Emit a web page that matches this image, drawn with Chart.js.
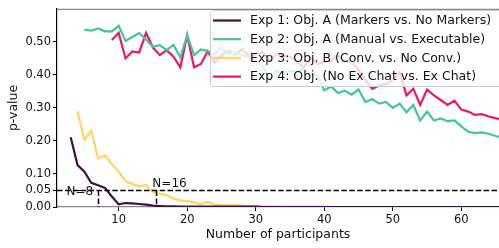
<!DOCTYPE html>
<html>
<head>
<meta charset="utf-8">
<script src="https://cdn.jsdelivr.net/npm/chart.js@4.4.1/dist/chart.umd.min.js"></script>
<style>
  html, body { margin: 0; padding: 0; background: #fff; }
  #wrap { width: 499px; height: 248px; }
</style>
</head>
<body>
<div id="wrap"><canvas id="pChart" width="499" height="248"></canvas></div>
<script>
// number of participants (x) and p-values for each experiment
const participants = [3,4,5,6,7,8,9,10,11,12,13,14,15,16,17,18,19,20,21,22,23,24,25,26,27,28,29,30,31,32,33,34,35,36,37,38,39,40,41,42,43,44,45,46,47,48,49,50,51,52,53,54,55,56,57,58,59,60,61,62,63,64,65,66];

const exp1 = [0.211,0.127,0.107,0.073,0.066,0.058,0.032,0.008,0.012,0.011,0.009,0.007,0.004,0.003,0.002,0.002,0.001,0.001,0.001,0.001,0.001,0.001,0.001,0.001,0.001,0.001,0.001,0.001,0,0,0,0,0,0,0,0,0,0,0,0,0,0,0,0,0,0,0,0,0,0,0,0,0,0,0,0,0,0,0,0,0,0,0,0];
const exp2 = [null,null,0.537,0.534,0.541,0.532,0.532,0.549,0.503,0.515,0.527,0.507,0.485,0.490,0.475,0.491,0.453,0.520,0.460,0.477,0.472,0.462,0.483,0.462,0.468,0.460,0.455,0.442,0.428,0.383,0.413,0.405,0.413,0.410,0.418,0.405,0.398,0.353,0.365,0.345,0.352,0.340,0.356,0.318,0.327,0.313,0.318,0.300,0.313,0.287,0.309,0.262,0.289,0.262,0.268,0.260,0.262,0.244,0.228,0.224,0.226,0.222,0.215,0.210];
const exp3 = [null,0.290,0.204,0.231,0.147,0.156,0.130,0.107,0.078,0.070,0.062,0.067,0.045,0.040,0.036,0.025,0.020,0.018,0.014,0.008,0.016,0.007,0.006,0.005,0.005,0.004,0.003,0.003,0.002,0.002,0.002,0.001,0.001,0.001,0.001,0.001,0.001,0.001,0,0,0,0,0,0,0,0,0,0,0,0,0,0,0,0,0,0,0,0,0,0,0,0,0,0];
const exp4 = [null,null,null,null,null,null,0.506,0.527,0.450,0.471,0.468,0.527,0.483,0.460,0.475,0.455,0.423,0.520,0.423,0.433,0.472,0.437,0.460,0.473,0.462,0.477,0.458,0.462,0.468,0.445,0.463,0.458,0.455,0.440,0.423,0.453,0.433,0.440,0.443,0.458,0.443,0.440,0.415,0.385,0.358,0.368,0.372,0.385,0.408,0.338,0.358,0.309,0.356,0.338,0.324,0.309,0.322,0.295,0.289,0.279,0.281,0.274,0.269,0.264];

const seriesNames = ['Exp 1: Obj. A (Markers vs. No Markers)', 'Exp 2: Obj. A (Manual vs. Executable)', 'Exp 3: Obj. B (Conv. vs. No Conv.)', 'Exp 4: Obj. (No Ex Chat vs. Ex Chat)'];
const seriesColors = ['#3f1142', '#45c49a', '#fdd562', '#e8196b'];

const xTicks = [10, 20, 30, 40, 50, 60];
const yTicks = [0, 0.05, 0.10, 0.20, 0.30, 0.40, 0.50];

// significance threshold and the N where each curve drops below it
const alphaLevel = 0.05;
const markerN = [7, 15.5];
const markerText = ['N=8', 'N=16'];

Chart.defaults.font.family = "'DejaVu Sans', sans-serif";
Chart.defaults.color = '#111';

const toPoints = arr => participants.map((n, i) => ({ x: n, y: arr[i] }));
const allSeries = [exp1, exp2, exp3, exp4];

// dashed threshold lines, N labels, top spine and the overlaid legend
const overlayPlugin = {
  id: 'overlay',
  afterDatasetsDraw(chart) {
    const { ctx, chartArea: a, scales: { x, y } } = chart;
    const yA = y.getPixelForValue(alphaLevel);
    const y0 = y.getPixelForValue(0);
    ctx.save();
    ctx.strokeStyle = '#000'; ctx.lineWidth = 1.5; ctx.setLineDash([5.5, 2.4]);
    ctx.beginPath(); ctx.moveTo(a.left, yA); ctx.lineTo(a.right, yA); ctx.stroke();
    markerN.forEach(n => {
      const px = Math.round(x.getPixelForValue(n)) + 0.5;
      ctx.beginPath(); ctx.moveTo(px, yA); ctx.lineTo(px, y0); ctx.stroke();
    });
    ctx.setLineDash([]);
    ctx.fillStyle = '#111'; ctx.font = "12px 'DejaVu Sans'";
    ctx.textAlign = 'right'; ctx.textBaseline = 'middle';
    ctx.fillText(markerText[0], x.getPixelForValue(markerN[0]) - 5, yA + 1);
    ctx.textAlign = 'left'; ctx.textBaseline = 'bottom';
    ctx.fillText(markerText[1], x.getPixelForValue(markerN[1]) - 4, yA - 1);

    // top spine
    ctx.strokeStyle = '#888'; ctx.lineWidth = 1.2;
    ctx.beginPath(); ctx.moveTo(a.left, a.top + 0.5); ctx.lineTo(a.right, a.top + 0.5); ctx.stroke();

    // legend box
    const bx = 210.5, by = 10.5, bw = 300, bh = 76;
    ctx.fillStyle = 'rgba(255,255,255,0.8)'; ctx.strokeStyle = '#cfcfcf'; ctx.lineWidth = 1;
    ctx.beginPath(); ctx.roundRect(bx, by, bw, bh, 3); ctx.fill(); ctx.stroke();
    ctx.font = "12.5px 'DejaVu Sans'"; ctx.textAlign = 'left'; ctx.textBaseline = 'middle';
    seriesNames.forEach((name, i) => {
      const ry = 20.5 + i * 18.7;
      ctx.strokeStyle = seriesColors[i]; ctx.lineWidth = 2.2;
      ctx.beginPath(); ctx.moveTo(213, ry); ctx.lineTo(241, ry); ctx.stroke();
      ctx.fillStyle = '#111';
      ctx.fillText(name, 250, ry + 0.5);
    });
    ctx.restore();
  }
};

new Chart(document.getElementById('pChart'), {
  type: 'line',
  data: {
    datasets: allSeries.map((arr, i) => ({
      label: seriesNames[i],
      data: toPoints(arr),
      borderColor: seriesColors[i],
      backgroundColor: seriesColors[i],
      borderWidth: 2.2,
      pointRadius: 0,
      tension: 0,
      fill: false
    }))
  },
  options: {
    responsive: false,
    animation: false,
    layout: { padding: { top: 4, right: 0, left: 0, bottom: 0 } },
    plugins: { legend: { display: false }, tooltip: { enabled: false } },
    scales: {
      x: {
        type: 'linear', min: 1, max: 65.5,
        afterBuildTicks: s => { s.ticks = xTicks.map(v => ({ value: v })); },
        afterFit: s => { s.height = 41; },
        grid: { drawOnChartArea: false, drawTicks: true, tickLength: 4, tickColor: '#000' },
        border: { color: '#888', width: 1.2 },
        ticks: { font: { size: 11.5 }, padding: 2, color: '#111', maxRotation: 0 },
        title: { display: true, text: 'Number of participants', font: { size: 12.5 }, padding: { top: 0, bottom: 6 }, color: '#111' }
      },
      y: {
        min: 0, max: 0.6,
        afterBuildTicks: s => { s.ticks = yTicks.map(v => ({ value: v })); },
        afterFit: s => { s.width = 57; },
        grid: { drawOnChartArea: false, drawTicks: true, tickLength: 4, tickColor: '#000' },
        border: { color: '#000', width: 1.2 },
        ticks: { font: { size: 11.5 }, padding: 2, color: '#111', callback: v => Number(v).toFixed(2) },
        title: { display: true, text: 'p-value', font: { size: 12.5 }, padding: { top: 6, bottom: 0 }, color: '#111' }
      }
    }
  },
  plugins: [overlayPlugin]
});
</script>
</body>
</html>
